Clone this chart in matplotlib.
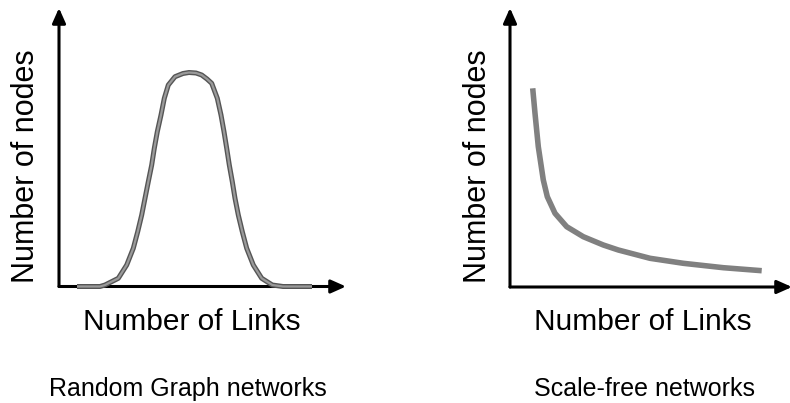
import matplotlib
matplotlib.use("Agg")
import matplotlib.pyplot as plt

plt.rcParams['font.family'] = ['Liberation Sans', 'DejaVu Sans']

# Random graph: bell-shaped degree distribution (arbitrary units)
random_links = [18, 41, 46, 59.3, 67.7, 74.3, 78.7, 82.7, 86, 89.3, 92.7, 95.3, 98.3,
                102, 105.3, 109.3, 116, 124, 130, 137, 142.7, 148, 152.7, 158.3, 162,
                165, 167.7, 170.3, 173.3, 176, 179.3, 183.3, 187.7, 194.3, 202.7, 213.3,
                224, 253]
random_nodes = [0, 0, 1.5, 8.2, 21.5, 38.2, 54.8, 71.5, 88.2, 104.8, 121.5, 138.2, 154.8,
                171.5, 188.2, 201.5, 209.8, 213, 214, 213.5, 211.5, 207.5, 203.2, 188.2,
                171.5, 154.8, 138.2, 121.5, 104.8, 88.2, 71.5, 54.8, 38.2, 21.5, 8.2, 1.5,
                0, 0]

# Scale-free: power-law-like decay
sf_links = [22.7, 25, 28.3, 33.3, 37.3, 45, 56.7, 73.3, 93.3, 108.3, 140, 173.3, 213.3, 251.7]
sf_nodes = [198.7, 173.7, 140.3, 107, 90.3, 73.7, 60.3, 50.3, 42, 37, 28.7, 23.7, 19.3, 16.3]

xlabel = "Number of Links"
ylabel = "Number of nodes"
titles = ["Random Graph networks", "Scale-free networks"]

W, H = 790, 403
fig = plt.figure(figsize=(W / 100, H / 100), dpi=100)


def add_axes_px(x0, y_bottom, x1, y_top):
    return fig.add_axes([x0 / W, 1 - y_bottom / H, (x1 - x0) / W, (y_bottom - y_top) / H])


def draw_arrows(ax):
    kw = dict(arrowstyle='-|>,head_length=0.9,head_width=0.4', color='black', lw=2.2,
              shrinkA=0, shrinkB=0, mutation_scale=10)
    ax.annotate('', xy=(0, 1), xytext=(0, 0), xycoords='axes fraction',
                arrowprops=kw, annotation_clip=False)
    ax.annotate('', xy=(1, 0), xytext=(0, 0), xycoords='axes fraction',
                arrowprops=kw, annotation_clip=False)


# Left panel
axL = add_axes_px(59, 286.5, 346, 8)
axL.set_xlim(0, 287)
axL.set_ylim(0, 278.5)
axL.axis('off')
draw_arrows(axL)
axL.plot(random_links, random_nodes, color='#555555', lw=3.6, solid_joinstyle='round',
         solid_capstyle='butt', clip_on=False, zorder=4)
axL.plot(random_links, random_nodes, color='#9a9a9a', lw=1.6, solid_joinstyle='round',
         solid_capstyle='butt', clip_on=False, zorder=5)

# Right panel
axR = add_axes_px(510, 287, 792, 8)
axR.set_xlim(0, 282)
axR.set_ylim(0, 279)
axR.axis('off')
axR.plot(sf_links, sf_nodes, color='#808080', lw=4.0, solid_joinstyle='round',
         solid_capstyle='butt', clip_on=False, zorder=2)
draw_arrows(axR)


def ftext(x, y, s, **kw):
    fig.text(x / W, 1 - y / H, s, ha='center', va='center', **kw)


ftext(26, 166, ylabel, rotation=90, fontsize=22)
ftext(478, 166, ylabel, rotation=90, fontsize=22)
ftext(192, 322, xlabel, fontsize=21.5)
ftext(643, 322, xlabel, fontsize=21.5)
ftext(188, 389, titles[0], fontsize=18)
ftext(645, 389, titles[1], fontsize=18)

fig.savefig('out.png', dpi=100)
